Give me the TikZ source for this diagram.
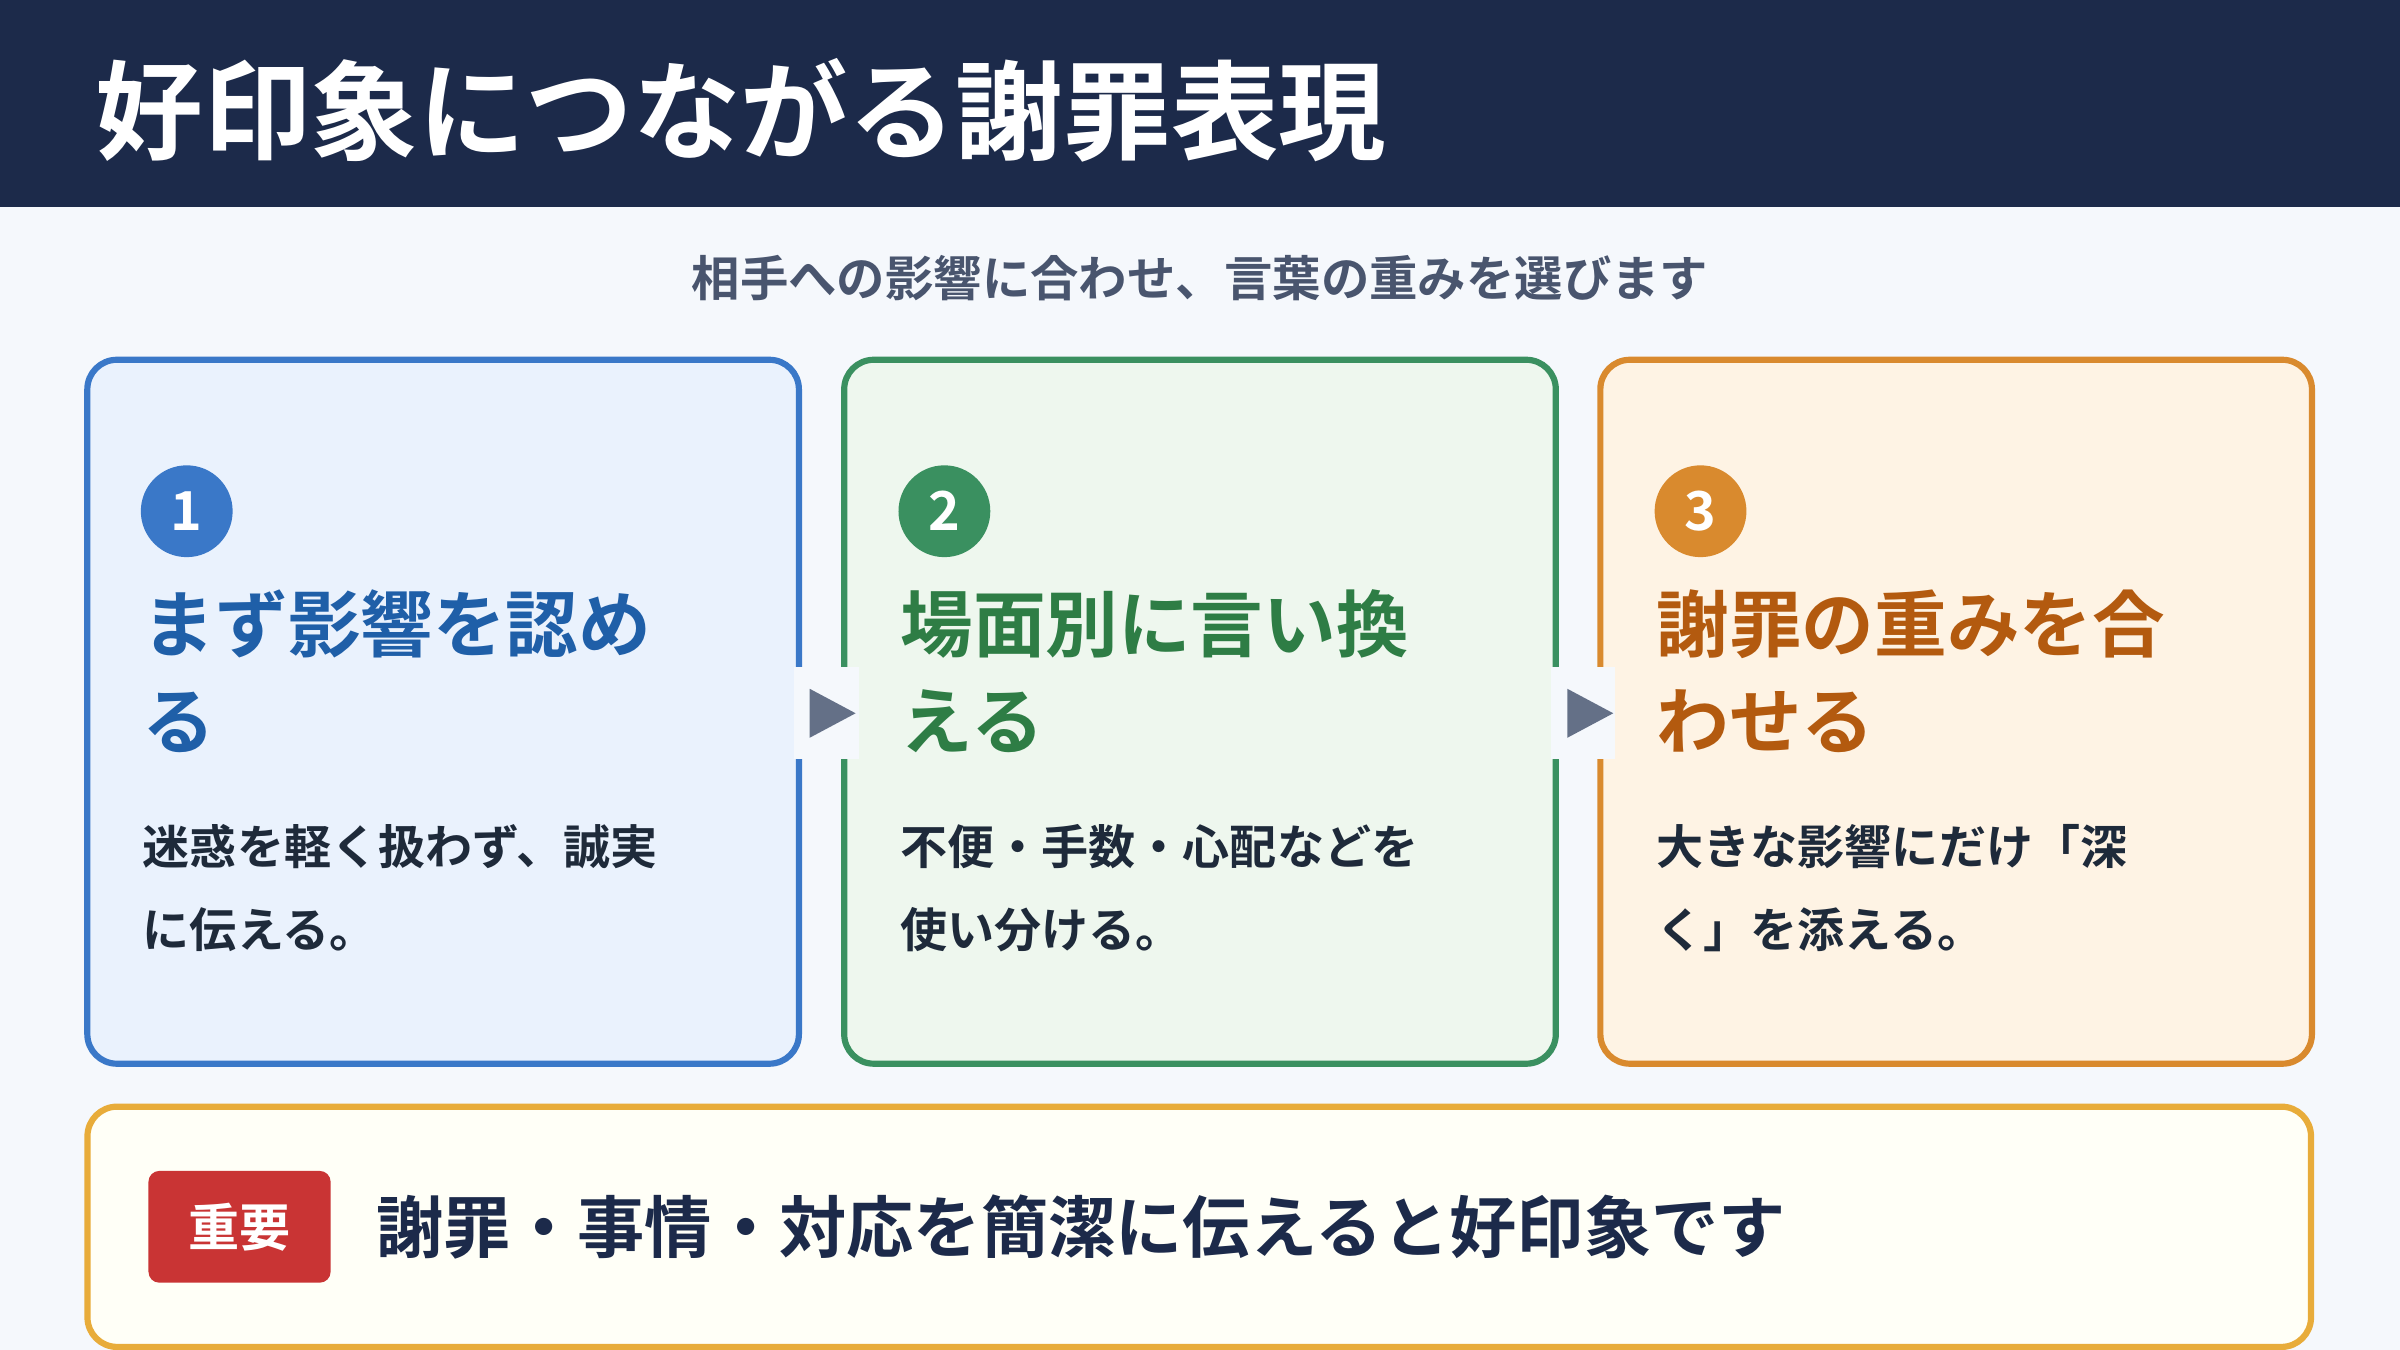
\documentclass[tikz,border=0pt]{standalone}
\usepackage{fontspec}
\setmainfont{Noto Sans CJK JP}
\newfontfamily\jpb{Noto Sans CJK JP}[BoldFont={* Bold}]
\usetikzlibrary{positioning}
\definecolor{navy}{HTML}{1C2A4A}
\definecolor{bgc}{HTML}{F5F8FC}
\definecolor{inkc}{HTML}{1E2A3A}
\definecolor{bluL}{HTML}{3A78C8}\definecolor{bluF}{HTML}{EAF2FD}\definecolor{bluT}{HTML}{1F5FA8}
\definecolor{grnL}{HTML}{3A9060}\definecolor{grnF}{HTML}{EEF7EE}\definecolor{grnT}{HTML}{2E7D45}
\definecolor{orgL}{HTML}{D98A2E}\definecolor{orgF}{HTML}{FEF3E4}\definecolor{orgT}{HTML}{B35A0F}
\definecolor{ylwL}{HTML}{E8AC3A}\definecolor{redB}{HTML}{C93434}\definecolor{arrc}{HTML}{647087}
\tikzset{
  card/.style={draw=#1L,fill=#1F,line width=2.3pt,rounded corners=11pt,minimum width=9.3cm,minimum height=9.2cm},
  num/.style={circle,fill=#1L,minimum size=1.2cm,inner sep=0pt,text=white,font=\jpb\bfseries\fontsize{20}{20}\selectfont},
  head/.style={anchor=north west,align=left,inner sep=0pt,text=#1T,font=\jpb\bfseries\fontsize{27}{36}\selectfont},
  body/.style={anchor=north west,align=left,inner sep=0pt,text=inkc,font=\jpb\bfseries\fontsize{17.5}{31}\selectfont},
  tip/.style={fill=arrc,draw=none}
}
\begin{document}
\begin{tikzpicture}[x=0.02cm,y=-0.02cm]
\useasboundingbox (0,0) rectangle (1568,882);
\fill[bgc] (0,0) rectangle (1568,882);
\fill[navy] (0,0) rectangle (1568,135);
\node (title) [anchor=west,text=white,inner sep=0pt,font=\jpb\bfseries\fontsize{40}{40}\selectfont] at (62,72) {好印象につながる謝罪表現};
\node (sub) [text=navy!80,font=\jpb\bfseries\fontsize{18}{18}\selectfont] at (784,182) {相手への影響に合わせ、言葉の重みを選びます};
% cards
\node (c1) [card=blu] at (289.5,465) {};
\node (c2) [card=grn] at (784,465) {};
\node (c3) [card=org] at (1278,465) {};
\node (n1) [num=blu] at (122,334) {1};
\node (n2) [num=grn] at (617,334) {2};
\node (n3) [num=org] at (1111,334) {3};
\node (h1) [head=blu] at (93,385) {まず影響を認め\\る};
\node (h2) [head=grn] at (588,385) {場面別に言い換\\える};
\node (h3) [head=org] at (1082,385) {謝罪の重みを合\\わせる};
\node (b1) [body] at (93,538) {迷惑を軽く扱わず、誠実\\に伝える。};
\node (b2) [body] at (588,538) {不便・手数・心配などを\\使い分ける。};
\node (b3) [body] at (1082,538) {大きな影響にだけ「深\\く」を添える。};
% arrows between cards
\fill[bgc] (519,436) rectangle (561,496);
\fill[bgc] (1013,436) rectangle (1055,496);
\path[tip] (529,450) -- (559,466) -- (529,482) -- cycle;
\path[tip] (1024,450) -- (1054,466) -- (1024,482) -- cycle;
% bottom note
\node (note) [draw=ylwL,fill=white!60!yellow!8,line width=2.3pt,rounded corners=11pt,minimum width=29.06cm,minimum height=3.14cm] at (783.5,801.5) {};
\node (tag) [fill=redB,rounded corners=4pt,minimum width=2.38cm,minimum height=1.46cm,text=white,font=\jpb\bfseries\fontsize{19}{19}\selectfont] at (156.5,801.5) {重要};
\node (msg) [right=0.58cm of tag,inner sep=0pt,text=navy,font=\jpb\bfseries\fontsize{25}{25}\selectfont] {謝罪・事情・対応を簡潔に伝えると好印象です};
\end{tikzpicture}
\end{document}
